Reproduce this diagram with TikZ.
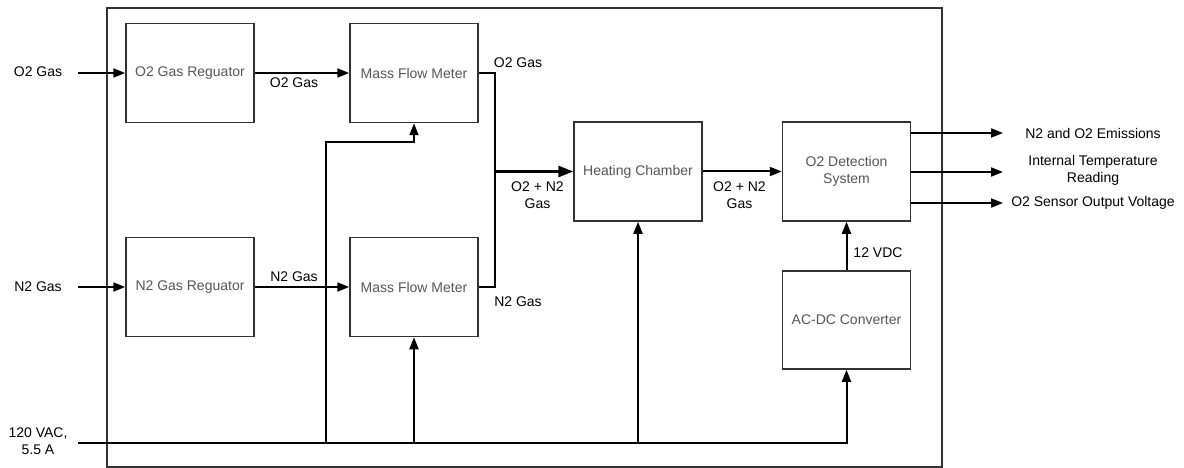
\documentclass[tikz,border=0pt]{standalone}
\usepackage{fontspec}
\setmainfont{Liberation Sans}
\usetikzlibrary{arrows.meta}
\definecolor{boxtext}{HTML}{555555}
\definecolor{boxline}{HTML}{333333}
\begin{document}
\begin{tikzpicture}[x=1pt,y=-1pt,
 font=\fontsize{14}{17}\selectfont,
 blk/.style={draw=boxline,line width=1.5pt,minimum width=128pt,minimum height=99pt,inner sep=0pt,text=boxtext,align=center},
 wire/.style={line width=2pt,-{Triangle[length=12pt,width=9pt]}},
 plainwire/.style={line width=2pt},
 lbl/.style={inner sep=0pt,align=center,text=black}]
\useasboundingbox (0,0) rectangle (1184,468);
\node[draw=boxline,line width=1.5pt,minimum width=835pt,minimum height=459pt,inner sep=0pt] (frame) at (524.5,237.5) {};

\node[blk] (o2reg) at (190,73) {O2 Gas Reguator};
\node[blk] (mfm1) at (414,73) {Mass Flow Meter};
\node[blk] (n2reg) at (190,287) {N2 Gas Reguator};
\node[blk] (mfm2) at (414,287) {Mass Flow Meter};
\node[blk] (heat) at (638,171.5) {Heating Chamber};
\node[blk] (det) at (846.5,171.5) {O2 Detection\\System};
\node[blk,minimum height=98pt] (acdc) at (846.5,320) {AC-DC Converter};

% inputs
\node[lbl] (o2in) at (38,72) {O2 Gas};
\node[lbl] (n2in) at (38,287) {N2 Gas};
\node[lbl] (vac) at (38,441.5) {120 VAC,\\5.5 A};
\coordinate (o2s) at (78,73);
\coordinate (n2s) at (78,287);
\draw[wire] (o2s) -- (o2reg.west);
\draw[wire] (n2s) -- (n2reg.west);
\draw[wire] (o2reg.east) -- (mfm1.west);
\draw[wire] (n2reg.east) -- (mfm2.west);

% merge
\coordinate (mj) at (495,171.5);
\draw[plainwire] (mfm1.east) -| (mj);
\draw[plainwire] (mfm2.east) -| (mj);
\draw[line width=3pt,-{Triangle[length=15pt,width=11pt]}] (mj) -- (heat.west);
\draw[wire] (heat.east) -- (det.west);
\draw[wire] (acdc.north) -- (det.south);

% outputs
\coordinate (out1) at (1003,133);
\coordinate (out2) at (1003,172);
\coordinate (out3) at (1003,203);
\draw[wire] (det.east |- out1) -- (out1);
\draw[wire] (det.east |- out2) -- (out2);
\draw[wire] (det.east |- out3) -- (out3);

% power bus
\coordinate (pin) at (78,443);
\coordinate (j1) at (326,443);
\coordinate (j2) at (414,443);
\coordinate (j3) at (638,443);
\coordinate (jturn) at (326,142);
\draw[wire] (pin) -| (acdc.south);
\draw[wire] (j1) -- (jturn) -| (mfm1.south);
\draw[wire] (j2) -- (mfm2.south);
\draw[wire] (j3) -- (heat.south);

% labels
\node[lbl] (l1) at (294,83) {O2 Gas};
\node[lbl] (l2) at (294,277) {N2 Gas};
\node[lbl] (l3) at (518,63) {O2 Gas};
\node[lbl] (l4) at (518,302) {N2 Gas};
\node[lbl] (l5) at (537.5,195.5) {O2 + N2\\Gas};
\node[lbl] (l6) at (739.5,195.5) {O2 + N2\\Gas};
\node[lbl] (l7) at (878,253) {12 VDC};
\node[lbl] (o1) at (1093,133) {N2 and O2 Emissions};
\node[lbl] (o2) at (1093,170.5) {Internal Temperature\\Reading};
\node[lbl] (o3) at (1093,203) {O2 Sensor Output Voltage};
\end{tikzpicture}
\end{document}
